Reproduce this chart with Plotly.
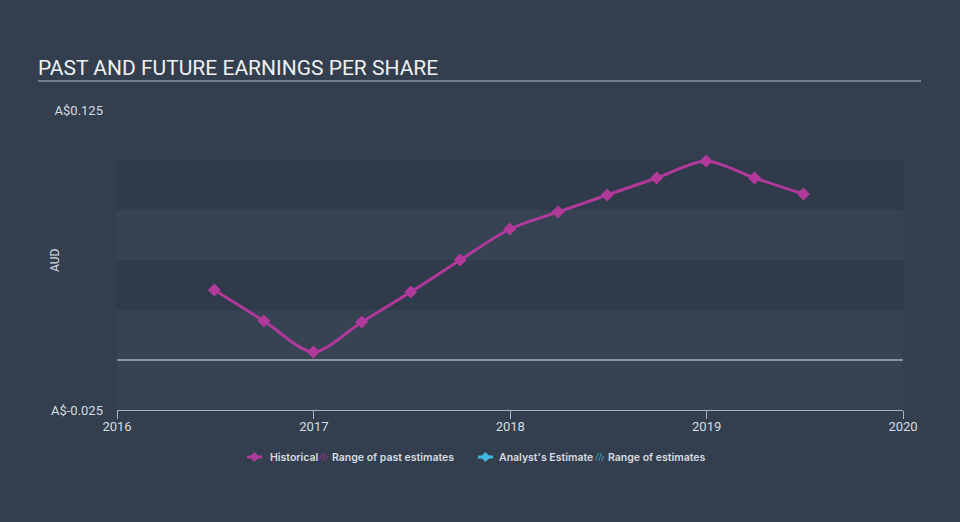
import plotly.graph_objects as go

dates = ["2016-06-30", "2016-09-30", "2016-12-31", "2017-03-31", "2017-06-30",
         "2017-09-30", "2017-12-31", "2018-03-31", "2018-06-30", "2018-09-30",
         "2018-12-31", "2019-03-31", "2019-06-30"]
eps = [0.035, 0.0195, 0.004, 0.019, 0.034, 0.050, 0.0655, 0.074, 0.0825,
       0.091, 0.0995, 0.091, 0.083]
y_ticks = [-0.025, 0.125]
y_tick_labels = ["A$-0.025", "A$0.125"]
x_ticks = ["2016-01-01", "2017-01-01", "2018-01-01", "2019-01-01", "2020-01-01"]
x_tick_labels = ["2016", "2017", "2018", "2019", "2020"]
legend_labels = ["Historical", "Range of past estimates", "Analyst's Estimate", "Range of estimates"]

MAG = "#b0399a"
CYAN = "#3fb8e0"
TXT = "#d8dce0"
BG = "#333f4e"

# plot area geometry (pixels) used to place decorations in paper coords
L, R, T, B = 117, 903, 110, 410
W, H = R - L, B - T


def px(xp):
    return (xp - L) / W


def py(yp):
    return (B - yp) / H


fig = go.Figure()

# bands
band_dark = "#2f3b4a"
band_light = "#354352"
for y0, y1, c in [(-0.025, 0.0, band_light), (0.0, 0.025, band_light), (0.025, 0.05, band_dark),
                  (0.05, 0.075, band_light), (0.075, 0.1, band_dark)]:
    fig.add_shape(type="rect", xref="x", yref="y", x0="2016-01-01", x1="2020-01-01",
                  y0=y0, y1=y1, fillcolor=c, line_width=0, layer="below")

fig.add_shape(type="line", xref="x", yref="y", x0="2016-01-01", x1="2020-01-01",
              y0=0, y1=0, line=dict(color="#e2e5e8", width=1.2))

# title underline
fig.add_shape(type="line", xref="paper", yref="paper", x0=px(38), x1=px(921),
              y0=py(81), y1=py(81), line=dict(color="#b8bfc6", width=1.2))

fig.add_trace(go.Scatter(x=dates, y=eps, mode="lines+markers", name=legend_labels[0],
                         line=dict(color=MAG, width=3, shape="spline", smoothing=0.8),
                         marker=dict(symbol="diamond", size=10, color=MAG),
                         showlegend=False))

# ---- manual legend (decoration) ----
LEG_Y = 457
text_x = [268, 330, 497, 606]
annotations = []
for lbl, tx in zip(legend_labels, text_x):
    annotations.append(dict(text=lbl, xref="paper", yref="paper", x=px(tx), y=py(LEG_Y),
                            xanchor="left", yanchor="middle", showarrow=False,
                            font=dict(family="Inter", size=10.5, color=TXT, weight=600)))

for cx, col in [(254.5, MAG), (485.5, CYAN)]:
    fig.add_shape(type="line", xref="paper", yref="paper", xsizemode="pixel", ysizemode="pixel",
                  xanchor=px(cx), yanchor=py(LEG_Y), x0=-7.5, x1=7.5, y0=0, y1=0,
                  line=dict(color=col, width=3))
    fig.add_shape(type="path", xref="paper", yref="paper", xsizemode="pixel", ysizemode="pixel",
                  xanchor=px(cx), yanchor=py(LEG_Y), path="M0,5 L5,0 L0,-5 L-5,0 Z",
                  fillcolor=col, line=dict(color=col, width=0))

for hx, col in [(323.5, MAG), (599.5, CYAN)]:
    fig.add_shape(type="path", xref="paper", yref="paper", xsizemode="pixel", ysizemode="pixel",
                  xanchor=px(hx), yanchor=py(LEG_Y),
                  path="M-4,-3 L-1,4 M-1,-4 L2,4 M2,-4 L4,1",
                  line=dict(color=col, width=1.2), opacity=0.6)

annotations += [
    dict(text="PAST AND FUTURE EARNINGS PER SHARE", xref="paper", yref="paper",
         x=px(36), y=py(68), xanchor="left", yanchor="middle",
         showarrow=False, font=dict(family="Roboto", size=21, color="#eef0f2")),
    dict(text="AUD", xref="paper", yref="paper", x=px(55), y=0.5,
         textangle=-90, showarrow=False, xanchor="center", yanchor="middle",
         font=dict(family="Roboto", size=12, color=TXT)),
]

fig.update_layout(
    width=960, height=522,
    margin=dict(l=L, r=960 - R, t=T, b=522 - B),
    paper_bgcolor=BG, plot_bgcolor=BG,
    font=dict(family="Roboto", color=TXT, size=12),
    showlegend=False,
    xaxis=dict(type="date", range=["2016-01-01", "2020-01-01"], tickvals=x_ticks,
               ticktext=x_tick_labels, showgrid=False, zeroline=False,
               showline=True, linecolor="#a9b3bd", linewidth=1,
               ticks="outside", ticklen=8, tickcolor="#a9b3bd",
               ticklabelstandoff=-4,
               tickfont=dict(size=13, color=TXT)),
    yaxis=dict(range=[-0.025, 0.125], tickvals=y_ticks, ticktext=y_tick_labels,
               showgrid=False, zeroline=False, showline=False, ticks="",
               ticklabelstandoff=13, tickfont=dict(size=13, color=TXT)),
    annotations=annotations,
)

fig.write_html("out.html")
